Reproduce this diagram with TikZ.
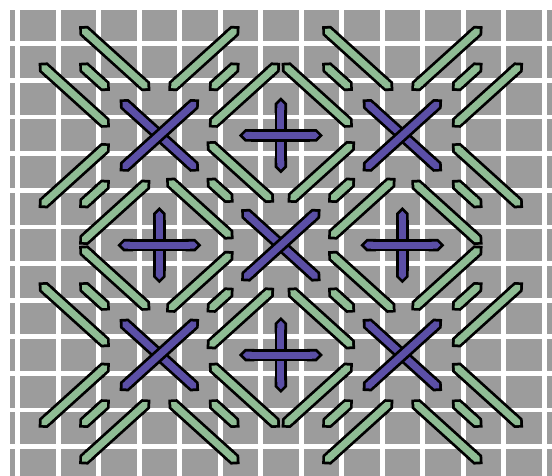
\documentclass[tikz,border=0pt]{standalone}
\usetikzlibrary{arrows.meta}
\definecolor{canvasgray}{HTML}{9C9C9C}
\definecolor{stitchgreen}{HTML}{8FBC94}
\definecolor{stitchblue}{HTML}{5B4FA6}
% one stitch: black rim first, then the thread on top
\newcommand\stitch[5]{%
  \draw[rim,shorten <=#4,shorten >=#5] #2 -- #3;
  \draw[#1,shorten <=#4+3.9pt,shorten >=#5+3.9pt] #2 -- #3;}

\begin{document}
\begin{tikzpicture}[x=40.5pt,y=-36.6pt,
  rim/.style={draw=black,line width=12.5pt,arrows={Triangle Cap[]-Triangle Cap[]}},
  gr/.style={draw=stitchgreen,line width=7pt,arrows={Triangle Cap[]-Triangle Cap[]}},
  bl/.style={draw=stitchblue,line width=7pt,arrows={Triangle Cap[]-Triangle Cap[]}},
  gridline/.style={white,line width=4.8pt}]
  \useasboundingbox (-0.9346,-0.6995) rectangle (12.695,12.306);
  \clip (-0.9346,-0.6995) rectangle (12.695,12.306);
  % canvas
  \fill[white] (-0.9346,-0.6995) rectangle (12.695,12.306);
  \fill[canvasgray] (-0.688,-0.4385) rectangle (12.695,12.306);
  \foreach \k in {0,...,13} \draw[gridline] (\k-0.5,-0.6995) -- (\k-0.5,12.306);
  \foreach \k in {1,...,12} \draw[gridline] (-0.9346,\k-0.5) -- (12.695,\k-0.5);
  % green rays from the corner crosses; rays towards the centre end short at both sides
  \foreach \c/\r in {3/3,9/3,3/9,9/9}{
    \foreach \dx/\dy in {1/1,1/-1,-1/1,-1/-1}{
      \pgfmathsetmacro\mid{(\dx==(6-\c)/3)&&(\dy==(6-\r)/3)}
      \pgfmathsetmacro\si{\mid ? 9 : 12}
      \pgfmathsetmacro\so{\mid ? 9 : 1}
      \stitch{gr}{(\c+\dx,\r+\dy)}{(\c+2*\dx,\r+2*\dy)}{\si pt}{\so pt}
      \stitch{gr}{(\c,\r+\dy)}{(\c+2*\dx,\r+3*\dy)}{\si pt}{\so pt}
      \stitch{gr}{(\c+\dx,\r)}{(\c+3*\dx,\r+2*\dy)}{\si pt}{\so pt}
    }
  }
  % blue crosses
  \foreach \c/\r in {3/3,9/3,6/6,3/9,9/9}{
    \stitch{bl}{(\c-1,\r-1)}{(\c+1,\r+1)}{1pt}{1pt}
    \stitch{bl}{(\c+1,\r-1)}{(\c-1,\r+1)}{1pt}{1pt}
  }
  % blue upright crosses
  \foreach \c/\r in {6/3,3/6,9/6,6/9}{
    \stitch{bl}{(\c,\r-1)}{(\c,\r+1)}{-1.5pt}{-1.5pt}
    \stitch{bl}{(\c-1,\r)}{(\c+1,\r)}{-1.5pt}{-1.5pt}
  }
\end{tikzpicture}
\end{document}
